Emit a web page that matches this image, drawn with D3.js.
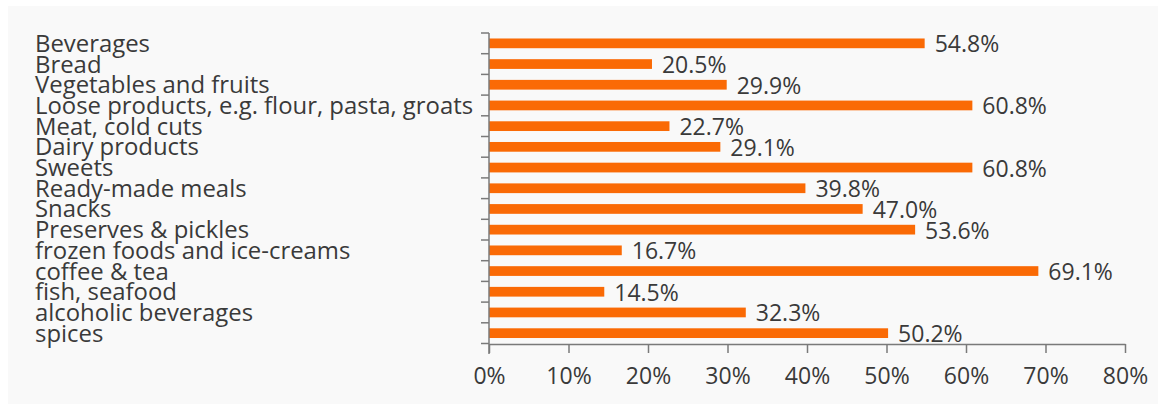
<!DOCTYPE html>
<html><head><meta charset="utf-8">
<script src="https://cdn.jsdelivr.net/npm/d3@7"></script>
<style>body{margin:0;background:#fff}svg{display:block}</style>
</head><body><svg id="c" width="1166" height="409"></svg>
<script>
const categories = ["Beverages","Bread","Vegetables and fruits","Loose products, e.g. flour, pasta, groats","Meat, cold cuts","Dairy products","Sweets","Ready-made meals","Snacks","Preserves & pickles","frozen foods and ice-creams","coffee & tea","fish, seafood","alcoholic beverages","spices"];
const values = [54.8,20.5,29.9,60.8,22.7,29.1,60.8,39.8,47.0,53.6,16.7,69.1,14.5,32.3,50.2];
const xTicks = [0,10,20,30,40,50,60,70,80];

const svg = d3.select("#c");
const font = "'Open Sans', sans-serif";
svg.append("rect").attr("x",8).attr("y",6).attr("width",1150).attr("height",398).attr("fill","#f9f9f9");

const x = d3.scaleLinear().domain([0,80]).range([489,1125]);
const y = d3.scaleBand().domain(categories).range([33,343.5]).paddingInner(0.53).paddingOuter(0.265);
const axisColor = "#7a7a7a";
const textColor = "#3a3a3a";

// bars
svg.selectAll("rect.bar").data(values).join("rect").attr("class","bar")
  .attr("x",x(0)).attr("y",(d,i)=>y(categories[i]))
  .attr("width",d=>x(d)-x(0)).attr("height",y.bandwidth())
  .attr("fill","#fa6a05");

// value labels
svg.selectAll("text.val").data(values).join("text").attr("class","val")
  .attr("x",d=>x(d)+10).attr("y",(d,i)=>y(categories[i])+y.bandwidth()/2+9)
  .attr("font-family",font).attr("font-size",23)
  .attr("fill",textColor).text(d=>d.toFixed(1)+"%");

// category labels
svg.selectAll("text.cat").data(categories).join("text").attr("class","cat")
  .attr("x",35).attr("y",d=>y(d)+y.bandwidth()/2+8.5)
  .attr("font-family",font).attr("font-size",23.9)
  .attr("fill",textColor).text(d=>d);

// x axis
const xa = svg.append("g").attr("transform","translate(0,344)")
  .call(d3.axisBottom(x).tickValues(xTicks).tickFormat(d=>d+"%").tickSize(9).tickSizeOuter(0));
xa.select(".domain").attr("stroke",axisColor).attr("stroke-width",1.5);
xa.selectAll(".tick line").attr("stroke",axisColor).attr("stroke-width",1.5);
xa.selectAll(".tick text").attr("font-family",font).attr("font-size",23).attr("fill",textColor)
  .attr("y",40).attr("dy",0);

// y axis line and boundary ticks
const step = y.step();
const bounds = d3.range(categories.length+1).map(i=>33+i*step);
svg.append("line").attr("x1",x(0)).attr("x2",x(0)).attr("y1",33).attr("y2",354)
  .attr("stroke",axisColor).attr("stroke-width",1.5);
svg.selectAll("line.yt").data(bounds).join("line").attr("class","yt")
  .attr("x1",x(0)-8).attr("x2",x(0)).attr("y1",d=>d).attr("y2",d=>d)
  .attr("stroke",axisColor).attr("stroke-width",1.5);
</script></body></html>
